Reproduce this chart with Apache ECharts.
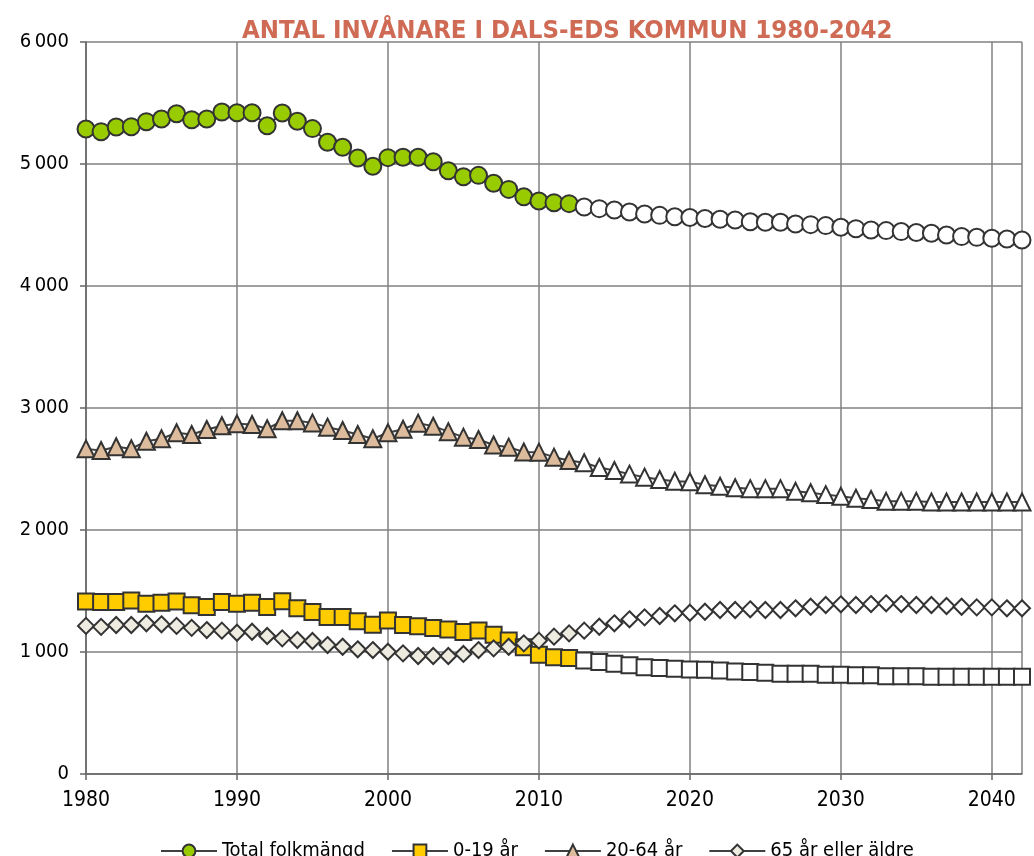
<!DOCTYPE html>
<html>
<head>
<meta charset="utf-8">
<script src="https://cdn.jsdelivr.net/npm/echarts@6/dist/echarts.min.js"></script>
<style>
html,body{margin:0;padding:0;background:#fff;}
#main{width:1034px;height:856px;}
</style>
</head>
<body>
<div id="main"></div>
<script>
// år 1980-2042, prognos fr.o.m. 2013
var years = [1980,1981,1982,1983,1984,1985,1986,1987,1988,1989,
  1990,1991,1992,1993,1994,1995,1996,1997,1998,1999,
  2000,2001,2002,2003,2004,2005,2006,2007,2008,2009,
  2010,2011,2012,2013,2014,2015,2016,2017,2018,2019,
  2020,2021,2022,2023,2024,2025,2026,2027,2028,2029,
  2030,2031,2032,2033,2034,2035,2036,2037,2038,2039,
  2040,2041,2042];
var lastObserved = 2012;
var xTicks = [1980,1990,2000,2010,2020,2030,2040];

var total = [5287,5265,5303,5306,5347,5369,5412,5363,5369,5426,
  5420,5420,5314,5418,5350,5290,5178,5137,5049,4981,
  5052,5055,5055,5019,4945,4896,4907,4842,4792,4732,
  4697,4683,4675,4648,4634,4623,4607,4590,4579,4568,
  4562,4553,4547,4541,4527,4522,4522,4508,4503,4495,
  4481,4470,4459,4454,4446,4438,4432,4418,4405,4399,
  4391,4385,4377];
var age0_19 = [1413,1409,1409,1422,1395,1403,1413,1383,1368,1409,
  1395,1403,1368,1416,1358,1328,1286,1286,1252,1224,
  1258,1221,1212,1197,1184,1164,1176,1142,1094,1039,
  978,957,951,930,918,903,891,875,869,863,
  857,855,848,841,836,829,821,821,821,814,
  814,809,809,802,802,802,797,797,797,797,
  797,797,797];
var age20_64 = [2665,2652,2682,2666,2728,2748,2797,2783,2824,2854,
  2870,2865,2830,2895,2895,2878,2843,2816,2783,2748,
  2797,2826,2876,2851,2806,2761,2742,2697,2679,2639,
  2638,2597,2570,2551,2512,2488,2458,2433,2414,2399,
  2396,2371,2359,2346,2339,2339,2339,2317,2305,2290,
  2277,2260,2250,2235,2235,2235,2230,2230,2230,2230,
  2230,2230,2230];
var age65 = [1214,1206,1221,1221,1235,1227,1214,1198,1180,1175,
  1158,1166,1131,1112,1098,1090,1057,1043,1022,1016,
  1002,989,967,967,967,984,1016,1030,1043,1071,
  1093,1126,1153,1175,1207,1235,1268,1284,1295,1317,
  1322,1330,1344,1344,1350,1344,1344,1358,1371,1385,
  1391,1385,1393,1399,1393,1385,1385,1377,1371,1366,
  1366,1358,1358];

var names = ['Total folkmängd','0-19 år','20-64 år','65 år eller äldre'];

var font = 'Liberation Sans Narrow, DejaVu Sans Condensed, Liberation Sans, sans-serif';

function toData(vals){
  var out = [];
  for(var i=0;i<vals.length;i++){
    var item = {value:[years[i], vals[i]]};
    if(years[i] > lastObserved){
      item.itemStyle = {color:'#ffffff'};
    }
    out.push(item);
  }
  return out;
}

function mkSeries(name, vals, symbol, size, fill){
  return {
    name: name,
    type: 'line',
    data: toData(vals),
    symbol: symbol,
    symbolSize: size,
    showAllSymbol: true,
    lineStyle: {color:'#404040', width:2},
    itemStyle: {color: fill, borderColor:'#333333', borderWidth:2},
    emphasis: {disabled:true},
    animation: false
  };
}

var chart = echarts.init(document.getElementById('main'));
chart.setOption({
  backgroundColor: '#ffffff',
  title: {
    text: 'ANTAL INVÅNARE I DALS-EDS KOMMUN 1980-2042',
    left: 237,
    top: 13,
    textStyle: {fontFamily: font, fontSize: 25.5, fontWeight: 'bold', color: '#cf6a55'}
  },
  legend: {
    data: names,
    left: 155,
    top: 836,
    itemWidth: 56,
    itemHeight: 16,
    itemGap: 26,
    textStyle: {fontFamily: font, fontSize: 20, color: '#000'}
  },
  grid: {left: 86, right: 12, top: 42, bottom: 82},
  xAxis: {
    type: 'value',
    min: 1980,
    max: 2042,
    interval: 10,
    axisLine: {show: true, lineStyle: {color: '#666', width: 1.5}},
    axisTick: {show: true, length: 6, lineStyle: {color: '#666', width: 1.5}},
    axisLabel: {
      showMaxLabel: false,
      margin: 16,
      fontFamily: font,
      fontSize: 21,
      color: '#000',
      formatter: function(v){ return xTicks.indexOf(v) >= 0 ? String(v) : ''; }
    },
    splitLine: {show: true, lineStyle: {color: '#808080', width: 1.5}}
  },
  yAxis: {
    type: 'value',
    min: 0,
    max: 6000,
    interval: 1000,
    axisLine: {show: true, lineStyle: {color: '#666', width: 1.5}},
    axisTick: {show: true, length: 6, lineStyle: {color: '#666', width: 1.5}},
    axisLabel: {
      margin: 17,
      fontFamily: font,
      fontSize: 20,
      color: '#000',
      formatter: function(v){ return String(v).replace(/\B(?=(\d{3})+(?!\d))/g, '\u2009'); }
    },
    splitLine: {show: true, lineStyle: {color: '#808080', width: 1.5}}
  },
  series: [
    mkSeries(names[0], total, 'circle', 17, '#99cc00'),
    mkSeries(names[1], age0_19, 'rect', 16, '#ffcc00'),
    mkSeries(names[2], age20_64, 'triangle', 17, '#dcbc9c'),
    mkSeries(names[3], age65, 'diamond', 16, '#eeebe0')
  ]
});
</script>
</body>
</html>
